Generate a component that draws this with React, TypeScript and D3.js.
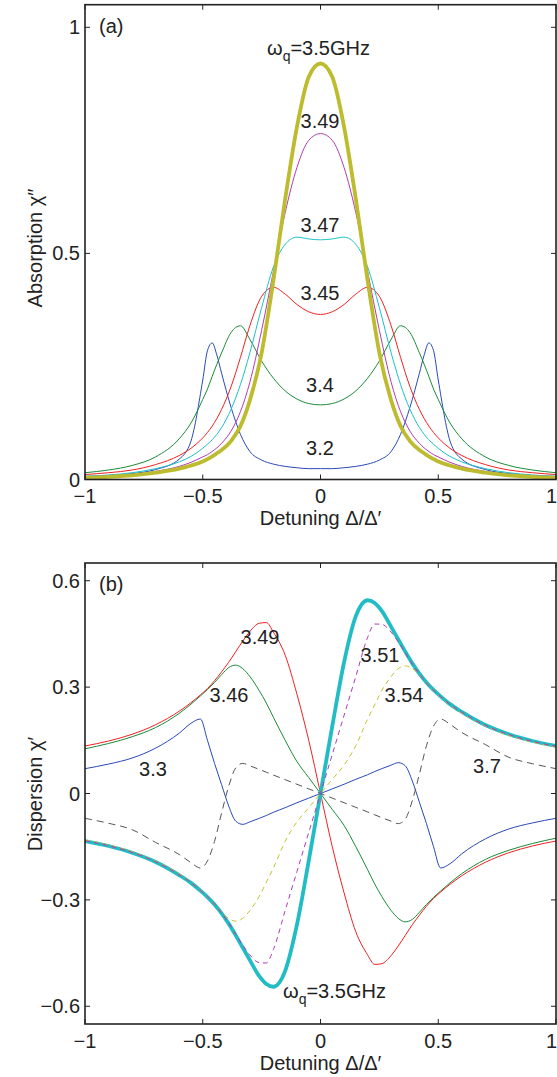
import React from "react";
import * as d3 from "d3";

// ---------- Panel (a): absorption ----------
const xAbs = [-1, -0.9, -0.8, -0.7, -0.6, -0.55, -0.5, -0.48, -0.46, -0.44, -0.42, -0.38, -0.34, -0.3, -0.25, -0.2, -0.15, -0.1, -0.05, 0, 0.05, 0.1, 0.15, 0.2, 0.25, 0.3, 0.34, 0.38, 0.42, 0.44, 0.46, 0.48, 0.5, 0.55, 0.6, 0.7, 0.8, 0.9, 1];
const abs32 = [0.007, 0.009, 0.013, 0.022, 0.045, 0.085, 0.22, 0.285, 0.302, 0.275, 0.235, 0.16, 0.1, 0.062, 0.043, 0.034, 0.029, 0.026, 0.024, 0.024, 0.024, 0.026, 0.029, 0.034, 0.043, 0.062, 0.1, 0.16, 0.235, 0.275, 0.302, 0.285, 0.22, 0.085, 0.045, 0.022, 0.013, 0.009, 0.007];
const abs34 = [0.015, 0.021, 0.031, 0.05, 0.09, 0.125, 0.177, 0.2, 0.228, 0.255, 0.28, 0.325, 0.34, 0.31, 0.262, 0.224, 0.196, 0.178, 0.168, 0.165, 0.168, 0.178, 0.196, 0.224, 0.262, 0.31, 0.34, 0.325, 0.28, 0.255, 0.228, 0.2, 0.177, 0.125, 0.09, 0.05, 0.031, 0.021, 0.015];
const abs345 = [0.011, 0.015, 0.021, 0.033, 0.053, 0.069, 0.092, 0.104, 0.118, 0.135, 0.155, 0.205, 0.27, 0.34, 0.405, 0.425, 0.41, 0.387, 0.371, 0.365, 0.371, 0.387, 0.41, 0.425, 0.405, 0.34, 0.27, 0.205, 0.155, 0.135, 0.118, 0.104, 0.092, 0.069, 0.053, 0.033, 0.021, 0.015, 0.011];
const abs347 = [0.007, 0.01, 0.015, 0.024, 0.039, 0.051, 0.069, 0.078, 0.088, 0.1, 0.115, 0.155, 0.21, 0.28, 0.38, 0.47, 0.52, 0.536, 0.532, 0.53, 0.532, 0.536, 0.52, 0.47, 0.38, 0.28, 0.21, 0.155, 0.115, 0.1, 0.088, 0.078, 0.069, 0.051, 0.039, 0.024, 0.015, 0.01, 0.007];
const abs349 = [0.006, 0.008, 0.011, 0.018, 0.029, 0.038, 0.05, 0.055, 0.062, 0.07, 0.08, 0.107, 0.15, 0.215, 0.33, 0.46, 0.59, 0.69, 0.75, 0.765, 0.75, 0.69, 0.59, 0.46, 0.33, 0.215, 0.15, 0.107, 0.08, 0.07, 0.062, 0.055, 0.05, 0.038, 0.029, 0.018, 0.011, 0.008, 0.006];
const abs35 = [0.004, 0.006, 0.009, 0.015, 0.024, 0.031, 0.04, 0.045, 0.051, 0.058, 0.065, 0.085, 0.118, 0.175, 0.28, 0.44, 0.62, 0.78, 0.89, 0.92, 0.89, 0.78, 0.62, 0.44, 0.28, 0.175, 0.118, 0.085, 0.065, 0.058, 0.051, 0.045, 0.04, 0.031, 0.024, 0.015, 0.009, 0.006, 0.004];

// ---------- Panel (b): dispersion ----------
const xDis = [-1, -0.9, -0.8, -0.7, -0.6, -0.55, -0.51, -0.48, -0.45, -0.42, -0.39, -0.36, -0.33, -0.3, -0.26, -0.23, -0.2, -0.15, -0.1, -0.05, 0, 0.05, 0.1, 0.15, 0.2, 0.23, 0.26, 0.3, 0.33, 0.36, 0.39, 0.42, 0.45, 0.48, 0.51, 0.55, 0.6, 0.7, 0.8, 0.9, 1];
const dis33 = [0.07, 0.083, 0.1, 0.128, 0.17, 0.198, 0.21, 0.15, 0.085, 0.025, -0.035, -0.078, -0.087, -0.08, -0.07, -0.062, -0.053, -0.04, -0.026, -0.013, 0, 0.013, 0.026, 0.04, 0.053, 0.062, 0.07, 0.08, 0.087, 0.078, 0.035, -0.025, -0.085, -0.15, -0.21, -0.198, -0.17, -0.128, -0.1, -0.083, -0.07];
const dis346 = [0.126, 0.141, 0.16, 0.186, 0.226, 0.252, 0.275, 0.293, 0.313, 0.335, 0.355, 0.362, 0.352, 0.33, 0.29, 0.255, 0.215, 0.15, 0.09, 0.045, 0, -0.045, -0.09, -0.15, -0.215, -0.255, -0.29, -0.33, -0.352, -0.362, -0.355, -0.335, -0.313, -0.293, -0.275, -0.252, -0.226, -0.186, -0.16, -0.141, -0.126];
const dis349 = [0.134, 0.148, 0.167, 0.194, 0.232, 0.256, 0.278, 0.296, 0.318, 0.343, 0.37, 0.4, 0.43, 0.457, 0.48, 0.482, 0.455, 0.39, 0.28, 0.15, 0, -0.15, -0.28, -0.39, -0.455, -0.482, -0.48, -0.457, -0.43, -0.4, -0.37, -0.343, -0.318, -0.296, -0.278, -0.256, -0.232, -0.194, -0.167, -0.148, -0.134];
const dis35 = [-0.134, -0.148, -0.167, -0.193, -0.23, -0.252, -0.274, -0.292, -0.313, -0.338, -0.367, -0.4, -0.435, -0.47, -0.515, -0.537, -0.545, -0.5, -0.37, -0.19, 0, 0.19, 0.37, 0.5, 0.545, 0.537, 0.515, 0.47, 0.435, 0.4, 0.367, 0.338, 0.313, 0.292, 0.274, 0.252, 0.23, 0.193, 0.167, 0.148, 0.134];
const dis351 = [-0.133, -0.147, -0.166, -0.192, -0.229, -0.251, -0.273, -0.291, -0.312, -0.337, -0.365, -0.397, -0.428, -0.455, -0.477, -0.478, -0.44, -0.33, -0.22, -0.11, 0, 0.11, 0.22, 0.33, 0.44, 0.478, 0.477, 0.455, 0.428, 0.397, 0.365, 0.337, 0.312, 0.291, 0.273, 0.251, 0.229, 0.192, 0.166, 0.147, 0.133];
const dis354 = [-0.131, -0.145, -0.164, -0.191, -0.227, -0.25, -0.272, -0.291, -0.313, -0.335, -0.352, -0.36, -0.352, -0.33, -0.29, -0.25, -0.21, -0.135, -0.08, -0.04, 0, 0.04, 0.08, 0.135, 0.21, 0.25, 0.29, 0.33, 0.352, 0.36, 0.352, 0.335, 0.313, 0.291, 0.272, 0.25, 0.227, 0.191, 0.164, 0.145, 0.131];
const dis37 = [-0.07, -0.084, -0.102, -0.138, -0.172, -0.195, -0.21, -0.19, -0.135, -0.055, 0.02, 0.072, 0.085, 0.078, 0.068, 0.06, 0.052, 0.039, 0.026, 0.013, 0, -0.013, -0.026, -0.039, -0.052, -0.06, -0.068, -0.078, -0.085, -0.072, -0.02, 0.055, 0.135, 0.19, 0.21, 0.195, 0.172, 0.138, 0.102, 0.084, 0.07];

// ---------- ticks ----------
const xTicks = [-1, -0.5, 0, 0.5, 1];
const xTickLabels = ["\u22121", "\u22120.5", "0", "0.5", "1"];
const absTicks = [0, 0.5, 1];
const absTickLabels = ["0", "0.5", "1"];
const disTicks = [-0.6, -0.3, 0, 0.3, 0.6];
const disTickLabels = ["\u22120.6", "\u22120.3", "0", "0.3", "0.6"];

const FONT = "'Liberation Sans', Arial, Helvetica, sans-serif";
const FS = 20;
const INK = "#222";

const X0 = 85;
const X1 = 556;

type TP = { x: number; y: number; anchor?: string; size?: number; rotate?: number; children: React.ReactNode };
function T({ x, y, anchor = "start", size = FS, rotate = 0, children }: TP) {
  return (
    <text
      transform={`translate(${x},${y})${rotate ? ` rotate(${rotate})` : ""}`}
      textAnchor={anchor}
      fontSize={size}
      fontFamily={FONT}
      fill={INK}
    >
      {children}
    </text>
  );
}

type Series = { y: number[]; color: string; width: number; dash?: string };

function Panel({
  id, top, bottom, domain, xs, series, yTicks, yLabels, ylabel, ylabelY, tag,
}: {
  id: string; top: number; bottom: number; domain: [number, number]; xs: number[];
  series: Series[]; yTicks: number[]; yLabels: string[]; ylabel: string; ylabelY: number; tag: string;
}) {
  const x = d3.scaleLinear().domain([-1, 1]).range([X0, X1]);
  const y = d3.scaleLinear().domain(domain).range([bottom, top]);
  const tl = 5;
  return (
    <g>
      <defs>
        <clipPath id={id}>
          <rect x={X0} y={top} width={X1 - X0} height={bottom - top} />
        </clipPath>
      </defs>
      <g clipPath={`url(#${id})`}>
        {series.map((s, i) => {
          const line = d3
            .line<number>()
            .x((_, j) => x(xs[j]))
            .y((v) => y(v))
            .curve(d3.curveMonotoneX);
          return (
            <path
              key={i}
              d={line(s.y) || ""}
              fill="none"
              stroke={s.color}
              strokeWidth={s.width}
              strokeDasharray={s.dash}
              strokeLinejoin="round"
            />
          );
        })}
      </g>
      <rect x={X0} y={top} width={X1 - X0} height={bottom - top} fill="none" stroke={INK} strokeWidth={1.6} />
      {xTicks.map((t, i) => {
        const last = i === xTicks.length - 1;
        return (
          <g key={"xt" + i}>
            <line x1={x(t)} x2={x(t)} y1={bottom} y2={bottom - tl} stroke={INK} strokeWidth={1} />
            <line x1={x(t)} x2={x(t)} y1={top} y2={top + tl} stroke={INK} strokeWidth={1} />
            <T x={last ? 557 : x(t)} y={bottom + 23.5} anchor={last ? "end" : "middle"}>{xTickLabels[i]}</T>
          </g>
        );
      })}
      {yTicks.map((t, i) => (
        <g key={"yt" + i}>
          <line x1={X0} x2={X0 + tl} y1={y(t)} y2={y(t)} stroke={INK} strokeWidth={1} />
          <line x1={X1} x2={X1 - tl} y1={y(t)} y2={y(t)} stroke={INK} strokeWidth={1} />
          <T x={80} y={y(t) + 7} anchor="end">{yLabels[i]}</T>
        </g>
      ))}
      <T x={(X0 + X1) / 2} y={bottom + 45.5} anchor="middle">Detuning Δ/Δ′</T>
      <T x={42} y={ylabelY} anchor="middle" rotate={-90}>{ylabel}</T>
      <T x={99} y={top + 28}>{tag}</T>
    </g>
  );
}

function Omega({ x, y }: { x: number; y: number }) {
  return (
    <text transform={`translate(${x},${y})`} fontSize={FS} fontFamily={FONT} fill={INK}>
      <tspan>ω</tspan>
      <tspan fontSize={14} dy={6}>q</tspan>
      <tspan dy={-6}>=3.5GHz</tspan>
    </text>
  );
}

export default function App() {
  const absSeries: Series[] = [
    { y: abs32, color: "#2a48b8", width: 1 },
    { y: abs34, color: "#1a8a3a", width: 1 },
    { y: abs345, color: "#f02020", width: 1 },
    { y: abs347, color: "#1cc0c8", width: 1 },
    { y: abs349, color: "#b03cb0", width: 1 },
    { y: abs35, color: "#bcbc2e", width: 3.8 },
  ];
  const disSeries: Series[] = [
    { y: dis33, color: "#2a48b8", width: 1 },
    { y: dis346, color: "#1a8a3a", width: 1 },
    { y: dis349, color: "#f02020", width: 1 },
    { y: dis35, color: "#22bcc4", width: 3.8 },
    { y: dis37, color: "#555555", width: 1, dash: "7,5" },
    { y: dis354, color: "#c4c430", width: 1, dash: "5,4" },
    { y: dis351, color: "#b03cb0", width: 1, dash: "5,4" },
  ];
  return (
    <svg width={557} height={1077} style={{ position: "absolute", left: 0, top: 0, background: "#fff" }}>
      <rect x={0} y={0} width={557} height={1077} fill="#fff" />
      <Panel
        id="clipA" top={4.7} bottom={479.5} domain={[0, 1.05]} xs={xAbs}
        series={absSeries} yTicks={absTicks} yLabels={absTickLabels}
        ylabel="Absorption χ″" ylabelY={248} tag="(a)"
      />
      <Panel
        id="clipB" top={563} bottom={1024} domain={[-0.65, 0.65]} xs={xDis}
        series={disSeries} yTicks={disTicks} yLabels={disTickLabels}
        ylabel="Dispersion χ′" ylabelY={794} tag="(b)"
      />
      <Omega x={267} y={55} />
      <T x={320} y={128} anchor="middle">3.49</T>
      <T x={320} y={232} anchor="middle">3.47</T>
      <T x={320} y={300} anchor="middle">3.45</T>
      <T x={320} y={392} anchor="middle">3.4</T>
      <T x={320} y={455} anchor="middle">3.2</T>
      <T x={260} y={644} anchor="middle">3.49</T>
      <T x={229} y={702} anchor="middle">3.46</T>
      <T x={153} y={776} anchor="middle">3.3</T>
      <T x={380} y={662} anchor="middle">3.51</T>
      <T x={404} y={702} anchor="middle">3.54</T>
      <T x={487} y={773} anchor="middle">3.7</T>
      <Omega x={283} y={998} />
    </svg>
  );
}
